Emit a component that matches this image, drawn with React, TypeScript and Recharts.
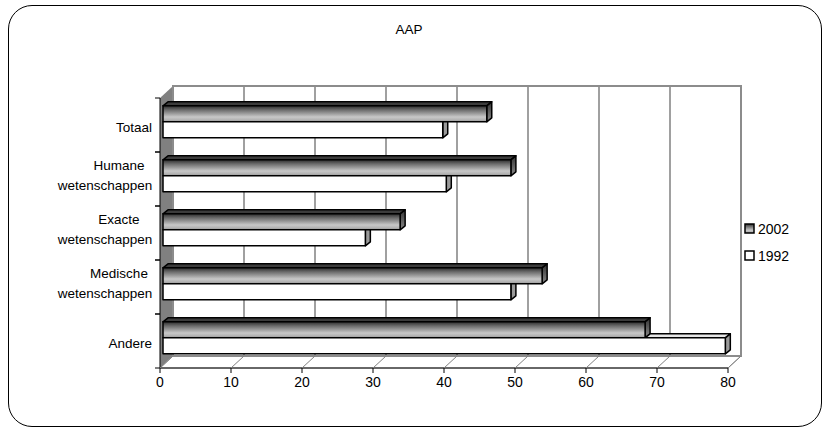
import React from "react";
import { BarChart, Bar, XAxis, YAxis, CartesianGrid, Legend } from "recharts";

const categories = ["Totaal", "Humane wetenschappen", "Exacte wetenschappen", "Medische wetenschappen", "Andere"];
const values2002 = [45.6, 49.0, 33.4, 53.4, 67.9];
const values1992 = [39.4, 39.9, 28.5, 49.0, 79.2];
const xTicks = [0, 10, 20, 30, 40, 50, 60, 70, 80];
const legendOrder = ["2002", "1992"];

const data = categories.map((name, i) => ({ name, v2002: values2002[i], v1992: values1992[i] }));

// layout of the 3D box (front plane = recharts plot area)
const W = 831;
const H = 431;
const PLOT_L = 160;
const PLOT_T = 98;
const PLOT_R = 728;
const PLOT_B = 368;
const X_MAX = 80;
const WX = 13; // depth offset of back wall
const WY = -12;
const BX = 3; // front face of bars
const BY = -3;
const DX = 5; // bar thickness
const DY = -4;
const BAND = (PLOT_B - PLOT_T) / categories.length;
const FONT = "Arial, 'Liberation Sans', sans-serif";

const makeShape = (front: boolean) => (props: any) => {
  const { x, y, width, height, payload } = props;
  if (!width || width <= 0) return <g />;
  const fx = x + BX;
  const fy = y + BY;
  const ex = fx + width;
  const pts = (a: number[][]) => a.map((p) => p.join(",")).join(" ");
  if (front) {
    return (
      <g stroke="#000" strokeWidth={1.5} strokeLinejoin="round">
        <polygon points={pts([[fx, fy], [ex, fy], [ex + DX, fy + DY], [fx + DX, fy + DY]])} fill="#3c3c3c" />
        <polygon points={pts([[ex, fy], [ex + DX, fy + DY], [ex + DX, fy + height + DY], [ex, fy + height]])} fill="url(#side2002)" />
        <rect x={fx} y={fy} width={width} height={height} fill="url(#front2002)" />
      </g>
    );
  }
  // second bar sits under the first one, hide the hidden parts
  const e2 = fx + (width * payload.v2002) / payload.v1992;
  const start = Math.max(fx, e2);
  return (
    <g stroke="#000" strokeWidth={1.5} strokeLinejoin="round">
      {start < ex && (
        <polygon points={pts([[start, fy], [ex, fy], [ex + DX, fy + DY], [start + DX, fy + DY]])} fill="#e6e6e6" />
      )}
      {ex >= e2 + DX ? (
        <polygon points={pts([[ex, fy], [ex + DX, fy + DY], [ex + DX, fy + height + DY], [ex, fy + height]])} fill="#9a9a9a" />
      ) : (
        <polygon points={pts([[ex, fy], [ex + DX, fy], [ex + DX, fy + height + DY], [ex, fy + height]])} fill="#9a9a9a" />
      )}
      <rect x={fx} y={fy} width={width} height={height} fill="#fff" />
    </g>
  );
};

const CategoryTick = (props: any) => {
  const { y, payload } = props;
  const lines = String(payload.value).split(" ");
  const right = PLOT_L - 8;
  return (
    <g>
      <line x1={PLOT_L - 5} x2={PLOT_L} y1={y - BAND / 2} y2={y - BAND / 2} stroke="#000" />
      <line x1={PLOT_L - 5} x2={PLOT_L} y1={y + BAND / 2} y2={y + BAND / 2} stroke="#000" />
      {lines.length === 1 ? (
        <text x={right} y={y + 2} dy="0.35em" textAnchor="end" fontFamily={FONT} fontSize={13.5} fill="#000">
          {lines[0]}
        </text>
      ) : (
        <text fontFamily={FONT} fontSize={13.5} fill="#000" textAnchor="middle">
          <tspan x={right - 33} y={y - 13.5} dy="0.35em">
            {lines[0]}
          </tspan>
          <tspan x={right - 47} y={y + 6.5} dy="0.35em">
            {lines[1]}
          </tspan>
        </text>
      )}
    </g>
  );
};

const ValueTick = (props: any) => {
  const { x, y, payload } = props;
  return (
    <g>
      <line x1={x} y1={PLOT_B} x2={x + WX} y2={PLOT_B + WY} stroke="#808080" strokeWidth={1} />
      <text x={x} y={y} dy="0.71em" textAnchor="middle" fontFamily={FONT} fontSize={14} fill="#000">
        {payload.value}
      </text>
    </g>
  );
};

const renderLegend = (props: any) => {
  const payload = [...(props.payload || [])].sort(
    (a: any, b: any) => legendOrder.indexOf(a.value) - legendOrder.indexOf(b.value)
  );
  return (
    <div style={{ fontFamily: FONT, fontSize: 14, color: "#000" }}>
      {payload.map((entry: any, i: number) => (
        <div key={i} style={{ display: "flex", alignItems: "center", height: 27 }}>
          <svg width={11} height={11} style={{ marginRight: 3 }}>
            <rect
              x={1}
              y={1}
              width={9}
              height={9}
              fill={entry.value === "2002" ? "url(#front2002)" : "#fff"}
              stroke="#000"
              strokeWidth={1.5}
            />
          </svg>
          <span>{entry.value}</span>
        </div>
      ))}
    </div>
  );
};

export default function App() {
  return (
    <div style={{ position: "absolute", left: 0, top: 0, width: W, height: H, background: "#fff" }}>
      <div
        style={{
          position: "absolute",
          left: 8,
          top: 5,
          width: 814,
          height: 422,
          border: "1.5px solid #000",
          borderRadius: 24,
          boxSizing: "border-box",
        }}
      />
      <div
        style={{
          position: "absolute",
          left: 0,
          width: 818,
          top: 22,
          textAlign: "center",
          fontFamily: FONT,
          fontSize: 13.5,
        }}
      >
        AAP
      </div>
      <div style={{ position: "absolute", left: 0, top: 0 }}>
        <BarChart
          width={W}
          height={H}
          data={data}
          layout="vertical"
          barCategoryGap="20%"
          barGap={0}
          margin={{ top: PLOT_T, right: W - PLOT_R, left: 0, bottom: H - PLOT_B - 30 }}
        >
          <defs>
            <linearGradient id="front2002" x1="0" y1="0" x2="0" y2="1">
              <stop offset="0%" stopColor="#2c2c2c" />
              <stop offset="25%" stopColor="#6a6a6a" />
              <stop offset="70%" stopColor="#c8c8c8" />
              <stop offset="90%" stopColor="#b0b0b0" />
              <stop offset="100%" stopColor="#888" />
            </linearGradient>
            <linearGradient id="side2002" x1="0" y1="0" x2="0" y2="1">
              <stop offset="0%" stopColor="#333" />
              <stop offset="100%" stopColor="#8a8a8a" />
            </linearGradient>
          </defs>
          {/* left wall */}
          <polygon
            points={`${PLOT_L},${PLOT_T} ${PLOT_L + WX},${PLOT_T + WY} ${PLOT_L + WX},${PLOT_B + WY} ${PLOT_L},${PLOT_B}`}
            fill="#808080"
          />
          {/* floor */}
          <polygon
            points={`${PLOT_L},${PLOT_B} ${PLOT_R},${PLOT_B} ${PLOT_R + WX},${PLOT_B + WY} ${PLOT_L + WX},${PLOT_B + WY}`}
            fill="#fff"
            stroke="#a0a0a0"
            strokeWidth={1}
          />
          {/* back wall, pushed back by the depth offset */}
          <CartesianGrid
            x={PLOT_L + WX}
            y={PLOT_T + WY}
            width={PLOT_R - PLOT_L}
            height={PLOT_B - PLOT_T}
            horizontal={false}
            stroke="#808080"
            strokeWidth={1.5}
            strokeDasharray=""
            fill="#fff"
            verticalCoordinatesGenerator={({ offset }: any) =>
              xTicks.map((t) => offset.left + WX + (t / X_MAX) * offset.width)
            }
          />
          <rect
            x={PLOT_L + WX}
            y={PLOT_T + WY}
            width={PLOT_R - PLOT_L}
            height={PLOT_B - PLOT_T}
            fill="none"
            stroke="#8c8c8c"
            strokeWidth={2}
          />
          <XAxis
            type="number"
            domain={[0, X_MAX]}
            ticks={xTicks}
            interval={0}
            height={30}
            axisLine={{ stroke: "#000" }}
            tickLine={{ stroke: "#000" }}
            tickSize={5}
            tickMargin={4}
            tick={<ValueTick />}
          />
          <YAxis
            type="category"
            dataKey="name"
            width={PLOT_L}
            axisLine={{ stroke: "#000" }}
            tickLine={false}
            tickSize={5}
            tick={<CategoryTick />}
            interval={0}
          />
          <Legend
            layout="vertical"
            align="center"
            verticalAlign="middle"
            content={renderLegend}
            wrapperStyle={{ left: 744, top: 215, width: 75 }}
          />
          <Bar dataKey="v2002" name="2002" fill="url(#front2002)" isAnimationActive={false} shape={makeShape(true)} />
          <Bar dataKey="v1992" name="1992" fill="#fff" isAnimationActive={false} shape={makeShape(false)} />
        </BarChart>
      </div>
    </div>
  );
}
